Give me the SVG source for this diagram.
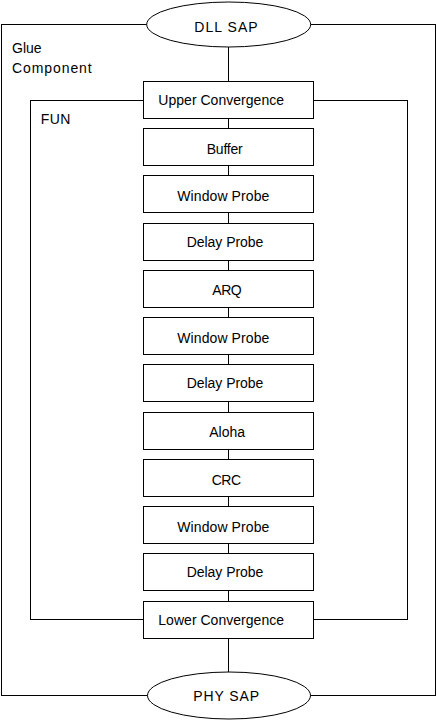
<svg xmlns="http://www.w3.org/2000/svg" width="437" height="720" viewBox="0 0 437 720">
<style>
.c{fill:none;stroke:#000;stroke-width:1}
.b{fill:#fff;stroke:#000;stroke-width:1}
.t{font-family:"Liberation Sans",Arial,sans-serif;font-size:14px;fill:#000}
</style>
<rect width="437" height="720" fill="#fff"/>
<g id="glue">
<rect class="c" x="1.5" y="24.5" width="434" height="671"/>
<text class="t" x="12" y="53.3">Glue</text>
<text class="t" x="12" y="72.7" textLength="79.7" lengthAdjust="spacing">Component</text>
</g>
<g id="fun">
<rect class="c" x="30.5" y="100.5" width="377" height="519"/>
<text class="t" x="40.7" y="124" textLength="29.6" lengthAdjust="spacing">FUN</text>
</g>
<g id="connectors">
<line class="c" x1="228.5" y1="47" x2="228.5" y2="81.5"/>
<line class="c" x1="228.5" y1="118.5" x2="228.5" y2="128.5"/>
<line class="c" x1="228.5" y1="165.5" x2="228.5" y2="175.5"/>
<line class="c" x1="228.5" y1="212.5" x2="228.5" y2="223.5"/>
<line class="c" x1="228.5" y1="260.5" x2="228.5" y2="270.5"/>
<line class="c" x1="228.5" y1="307.5" x2="228.5" y2="317.5"/>
<line class="c" x1="228.5" y1="354.5" x2="228.5" y2="364.5"/>
<line class="c" x1="228.5" y1="401.5" x2="228.5" y2="412.5"/>
<line class="c" x1="228.5" y1="449.5" x2="228.5" y2="459.5"/>
<line class="c" x1="228.5" y1="496.5" x2="228.5" y2="506.5"/>
<line class="c" x1="228.5" y1="543.5" x2="228.5" y2="553.5"/>
<line class="c" x1="228.5" y1="590.5" x2="228.5" y2="601.5"/>
<line class="c" x1="228.5" y1="638.5" x2="228.5" y2="672"/>
</g>
<g id="dll-sap">
<ellipse class="b" cx="228.7" cy="24.5" rx="82" ry="22.5"/>
<text class="t" x="194.3" y="31.5" textLength="63.4" lengthAdjust="spacing">DLL SAP</text>
</g>
<g id="upper-convergence">
<rect class="b" x="143.5" y="81.5" width="170" height="37"/>
<text class="t" x="158.3" y="105" textLength="125.7" lengthAdjust="spacing">Upper Convergence</text>
</g>
<g id="buffer">
<rect class="b" x="143.5" y="128.5" width="170" height="37"/>
<text class="t" x="206.7" y="154" textLength="36" lengthAdjust="spacing">Buffer</text>
</g>
<g id="window-probe-1">
<rect class="b" x="143.5" y="175.5" width="170" height="37"/>
<text class="t" x="177.3" y="200.7" textLength="92" lengthAdjust="spacing">Window Probe</text>
</g>
<g id="delay-probe-1">
<rect class="b" x="143.5" y="223.5" width="170" height="37"/>
<text class="t" x="186.7" y="246.7" textLength="76.7" lengthAdjust="spacing">Delay Probe</text>
</g>
<g id="arq">
<rect class="b" x="143.5" y="270.5" width="170" height="37"/>
<text class="t" x="212.3" y="295" textLength="29.4" lengthAdjust="spacing">ARQ</text>
</g>
<g id="window-probe-2">
<rect class="b" x="143.5" y="317.5" width="170" height="37"/>
<text class="t" x="177.3" y="342.7" textLength="92" lengthAdjust="spacing">Window Probe</text>
</g>
<g id="delay-probe-2">
<rect class="b" x="143.5" y="364.5" width="170" height="37"/>
<text class="t" x="186.7" y="388" textLength="76.7" lengthAdjust="spacing">Delay Probe</text>
</g>
<g id="aloha">
<rect class="b" x="143.5" y="412.5" width="170" height="37"/>
<text class="t" x="209.3" y="437" textLength="35.7" lengthAdjust="spacing">Aloha</text>
</g>
<g id="crc">
<rect class="b" x="143.5" y="459.5" width="170" height="37"/>
<text class="t" x="211.7" y="485" textLength="29.3" lengthAdjust="spacing">CRC</text>
</g>
<g id="window-probe-3">
<rect class="b" x="143.5" y="506.5" width="170" height="37"/>
<text class="t" x="177.3" y="532" textLength="92" lengthAdjust="spacing">Window Probe</text>
</g>
<g id="delay-probe-3">
<rect class="b" x="143.5" y="553.5" width="170" height="37"/>
<text class="t" x="186.7" y="577.3" textLength="76.7" lengthAdjust="spacing">Delay Probe</text>
</g>
<g id="lower-convergence">
<rect class="b" x="143.5" y="601.5" width="170" height="37"/>
<text class="t" x="158.3" y="625" textLength="125.7" lengthAdjust="spacing">Lower Convergence</text>
</g>
<g id="phy-sap">
<ellipse class="b" cx="229" cy="695.5" rx="81.5" ry="23.5"/>
<text class="t" x="193.3" y="701.3" textLength="65.7" lengthAdjust="spacing">PHY SAP</text>
</g>
</svg>
